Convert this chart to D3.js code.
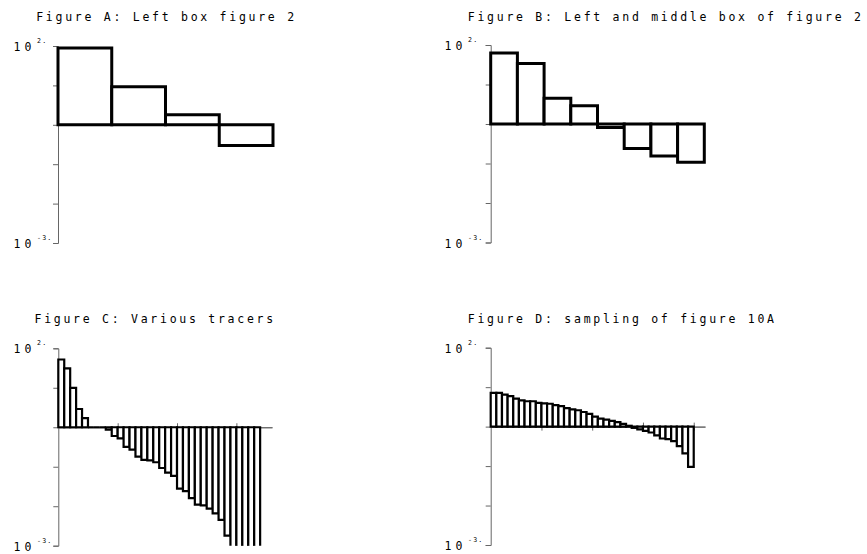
<!DOCTYPE html>
<html>
<head>
<meta charset="utf-8">
<script src="https://cdn.jsdelivr.net/npm/d3@7"></script>
<style>
  body { margin: 0; background: #fff; }
  text { font-family: "DejaVu Sans Mono", monospace; fill: #000; }
  .axis path, .axis line { stroke: #666; stroke-width: 1; }
</style>
</head>
<body>
<div id="chart"></div>
<script>
// Titles of the four panels
const titles = [
	'Figure A: Left box figure 2',
	'Figure B: Left and middle box of figure 2',
	'Figure C: Various tracers',
	'Figure D: sampling of figure 10A'
];

// Bar values (log scale, baseline at 1)
const valuesA = [89, 9.2, 1.8, 0.30];
const valuesB = [63, 34, 4.5, 2.9, 0.82, 0.24, 0.155, 0.107];
const valuesC = [52, 31, 10, 2.9, 1.7, 1, 1, 1, 0.87, 0.60, 0.52, 0.32, 0.27, 0.18,
	0.15, 0.145, 0.13, 0.093, 0.071, 0.059, 0.028, 0.024, 0.016, 0.011, 0.0105,
	0.0087, 0.0066, 0.0045, 0.0018, 0.001, 0.001, 0.001, 0.001, 0.001];
const valuesD = [7.2, 7.2, 6.5, 5.9, 5.1, 4.6, 4.4, 4.4, 4.0, 3.9, 3.8, 3.5, 3.3,
	2.95, 2.75, 2.6, 2.35, 2.1, 1.8, 1.6, 1.5, 1.4, 1.3, 1.17, 1.05, 0.93, 0.85,
	0.78, 0.71, 0.60, 0.50, 0.48, 0.43, 0.32, 0.21, 0.095];

// y axis decades and the two labelled ends
const yTicks = [1e2, 1e1, 1e0, 1e-1, 1e-2, 1e-3];
const yLabels = [{ v: 1e2, exp: '2.' }, { v: 1e-3, exp: '-3.' }];

// x axis ticks per panel
const xTicksC = [10, 20, 30];
const xTicksD = [9, 18, 27, 36];

const panels = [
	{ title: titles[0], values: valuesA, xMax: 4, xTicks: [], left: 58, top: 46, bottom: 243, width: 215, tx: 36.2, ty: 21, lx: 13.5, sw: 3 },
	{ title: titles[1], values: valuesB, xMax: 8, xTicks: [], left: 490.7, top: 45, bottom: 242.5, width: 213.6, tx: 467.8, ty: 21, lx: 444.5, sw: 3 },
	{ title: titles[2], values: valuesC, xMax: 36, xTicks: xTicksC, left: 58.3, top: 348.3, bottom: 545.7, width: 213.7, tx: 34.5, ty: 323.3, lx: 13.5, sw: 2.2 },
	{ title: titles[3], values: valuesD, xMax: 38, xTicks: xTicksD, left: 490.7, top: 347.7, bottom: 545, width: 214.3, tx: 467.8, ty: 322.7, lx: 444.5, sw: 2.2 }
];

const svg = d3.select('#chart').append('svg')
	.attr('width', 867)
	.attr('height', 554);

panels.forEach(p => drawPanel(p));

function drawPanel(p) {
	const x = d3.scaleLinear()
		.domain([0, p.xMax])
		.range([p.left, p.left + p.width]);
	const y = d3.scaleLog()
		.domain([1e-3, 1e2])
		.range([p.bottom, p.top]);
	const base = y(1);
	const yMin = y.domain()[0];

	svg.append('text')
		.attr('x', p.tx)
		.attr('y', p.ty)
		.attr('font-size', 11.5)
		.attr('letter-spacing', 2.73)
		.text(p.title);

	// y axis
	svg.append('g')
		.attr('class', 'axis')
		.attr('transform', `translate(${p.left},0)`)
		.call(d3.axisLeft(y).tickValues(yTicks).tickSize(5).tickFormat(''));

	yLabels.forEach(l => {
		svg.append('text')
			.attr('x', p.lx)
			.attr('y', y(l.v) + 5)
			.attr('font-size', 11.5)
			.attr('letter-spacing', 4.2)
			.text('10');
		svg.append('text')
			.attr('x', p.lx + 23.5)
			.attr('y', y(l.v) - 3)
			.attr('font-size', 6.6)
			.attr('letter-spacing', 1.2)
			.text(l.exp);
	});

	// x axis on the baseline, ticks crossing both ways
	[d3.axisBottom, d3.axisTop].forEach(ax => {
		svg.append('g')
			.attr('class', 'axis')
			.attr('transform', `translate(0,${base})`)
			.call(ax(x).tickValues(p.xTicks).tickSize(4).tickSizeOuter(0).tickFormat(''));
	});

	// bars; bars that reach the bottom of the scale are left open there
	svg.append('g')
		.selectAll('path')
		.data(p.values)
		.join('path')
		.attr('d', (v, i) => {
			const path = d3.path();
			if (v <= yMin) {
				path.moveTo(x(i), y(v));
				path.lineTo(x(i), base);
				path.lineTo(x(i + 1), base);
				path.lineTo(x(i + 1), y(v));
			} else {
				path.moveTo(x(i), base);
				path.lineTo(x(i), y(v));
				path.lineTo(x(i + 1), y(v));
				path.lineTo(x(i + 1), base);
				path.closePath();
			}
			return path.toString();
		})
		.attr('fill', '#fff')
		.attr('stroke', '#000')
		.attr('stroke-width', p.sw)
		.attr('stroke-linejoin', 'miter');
}
</script>
</body>
</html>
